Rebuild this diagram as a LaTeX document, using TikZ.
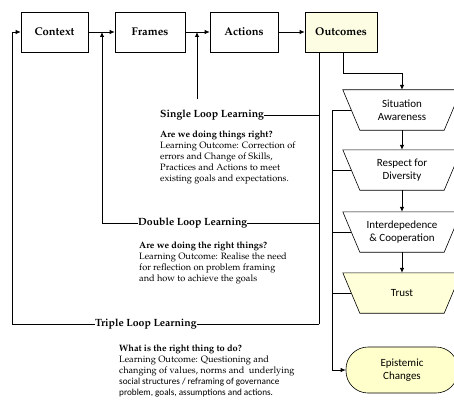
\documentclass[tikz,border=0pt]{standalone}
\usepackage{fontspec}
\newfontfamily\carlito{Carlito}
\usetikzlibrary{arrows.meta,backgrounds}
\newcommand\pal{\usefont{OT1}{ppl}{m}{n}}
\newcommand\palb{\usefont{OT1}{ppl}{b}{n}}
\definecolor{outfill}{HTML}{FDFDE4}
\definecolor{trustfill}{HTML}{FFFFDA}
\definecolor{epifill}{HTML}{FFFFCC}
\tikzset{
  conn/.style={line width=0.8pt, draw=black},
  arr/.style={conn, -{Latex[length=5pt,width=4.5pt]}},
  topbox/.style={draw, line width=0.6pt, minimum height=40pt, inner sep=0pt,
     font={\fontsize{11.2}{13}\selectfont\palb}},
  looplabel/.style={inner sep=0pt, anchor=west, font={\fontsize{10.5}{12}\selectfont\palb}},
  bodytext/.style={inner sep=0pt, anchor=north west, align=left,
     font={\fontsize{9.2}{11}\selectfont\pal}},
  tz/.style={inner sep=0pt, minimum width=84pt, minimum height=40pt, align=center,
     font={\fontsize{11}{13.5}\selectfont\carlito}},
  tzshape/.style={draw, line width=0.6pt}
}
\begin{document}
\begin{tikzpicture}[x=1pt,y=-1pt]
\useasboundingbox (0,0) rectangle (454,401);
% top row
\node[topbox, minimum width=67pt] (ctx) at (54.5,32) {Context};
\node[topbox, minimum width=70pt] (frm) at (150,32) {Frames};
\node[topbox, minimum width=68pt] (act) at (244,32) {Actions};
\node[topbox, minimum width=72pt, fill=outfill] (out) at (341,32) {Outcomes};
\coordinate (j1) at (102,32);
\coordinate (j2) at (197,32);
\draw[arr] (ctx.east) -- (frm.west);
\draw[arr] (frm.east) -- (act.west);
\draw[arr] (act.east) -- (out.west);

% loop labels
\node[looplabel] (sl) at (160,115) {Single Loop Learning};
\node[looplabel] (dl) at (138,223) {Double Loop Learning};
\node[looplabel] (tl) at (95,324) {Triple Loop Learning};

\coordinate (ov) at ([xshift=-22pt]out.south);
\coordinate (obot) at (ov |- tl.east);
\coordinate (lft) at (12,324);
\coordinate (sltop) at (197,99);

\draw[conn] (ov) -- (obot);
\draw[conn] (sl.east) -- (sl.east -| ov);
\draw[conn] (dl.east) -- (dl.east -| ov);
\draw[conn] (tl.east) -- (obot);
\draw[arr] (sltop) -- (j2);
\draw[arr] (dl.west) -| (j1);
\draw[arr] (tl.west) -- (lft) |- (ctx.west);

% body texts
\node[bodytext] (sb) at (160,131) {\textbf{Are we doing things right?}\\Learning Outcome: Correction of\\errors and Change of Skills,\\Practices and Actions to meet\\existing goals and expectations.};
\node[bodytext] (db) at (139,242) {\textbf{Are we doing the right things?}\\Learning Outcome: Realise the need\\for reflection on problem framing\\and how to achieve the goals};
\node[bodytext] (tb) at (119,345) {\textbf{What is the right thing to do?}\\Learning Outcome: Questioning and\\changing of values, norms and\ \ underlying\\{\carlito\fontsize{9.2}{11}\selectfont social structures / reframing of governance}\\{\carlito\fontsize{9.2}{11}\selectfont problem, goals, assumptions and actions.}};

% right column
\node[tz] (sa) at (402,110) {Situation\\Awareness};
\node[tz] (rd) at (402,170) {Respect for\\Diversity};
\node[tz] (ic) at (402,232) {Interdepedence\\\& Cooperation};
\node[tz] (tr) at (402,293) {Trust};
\node[draw, line width=0.6pt, fill=epifill, rounded corners=22pt, minimum width=112pt,
      minimum height=46pt, inner sep=0pt, align=center,
      font={\fontsize{11}{13.5}\selectfont\carlito}] (ep) at (402,370) {Epistemic\\Changes};

\begin{scope}[on background layer]
\foreach \n/\f in {sa/white, rd/white, ic/white, tr/trustfill}{
  \filldraw[tzshape, fill=\f] ([xshift=-17pt]\n.north west) -- ([xshift=17pt]\n.north east)
     -- (\n.south east) -- (\n.south west) -- cycle;
}
\end{scope}

\draw[arr] ([xshift=2pt]out.south) -- ++(0,21) -| (sa.north);
\draw[arr] (sa.south) -- (rd.north);
\draw[arr] (rd.south) -- (ic.north);
\draw[arr] (ic.south) -- (tr.north);

\coordinate (sbx) at (332,110);
\draw[conn] ([xshift=-8.5pt]sa.west) -- (sbx);
\draw[arr] (sbx) |- (ep.west);
\draw[conn] ([xshift=-8.5pt]rd.west) -- (rd.west -| sbx);
\draw[conn] ([xshift=-8.5pt]ic.west) -- (ic.west -| sbx);
\draw[conn] ([xshift=-8.5pt]tr.west) -- (tr.west -| sbx);
\end{tikzpicture}
\end{document}
